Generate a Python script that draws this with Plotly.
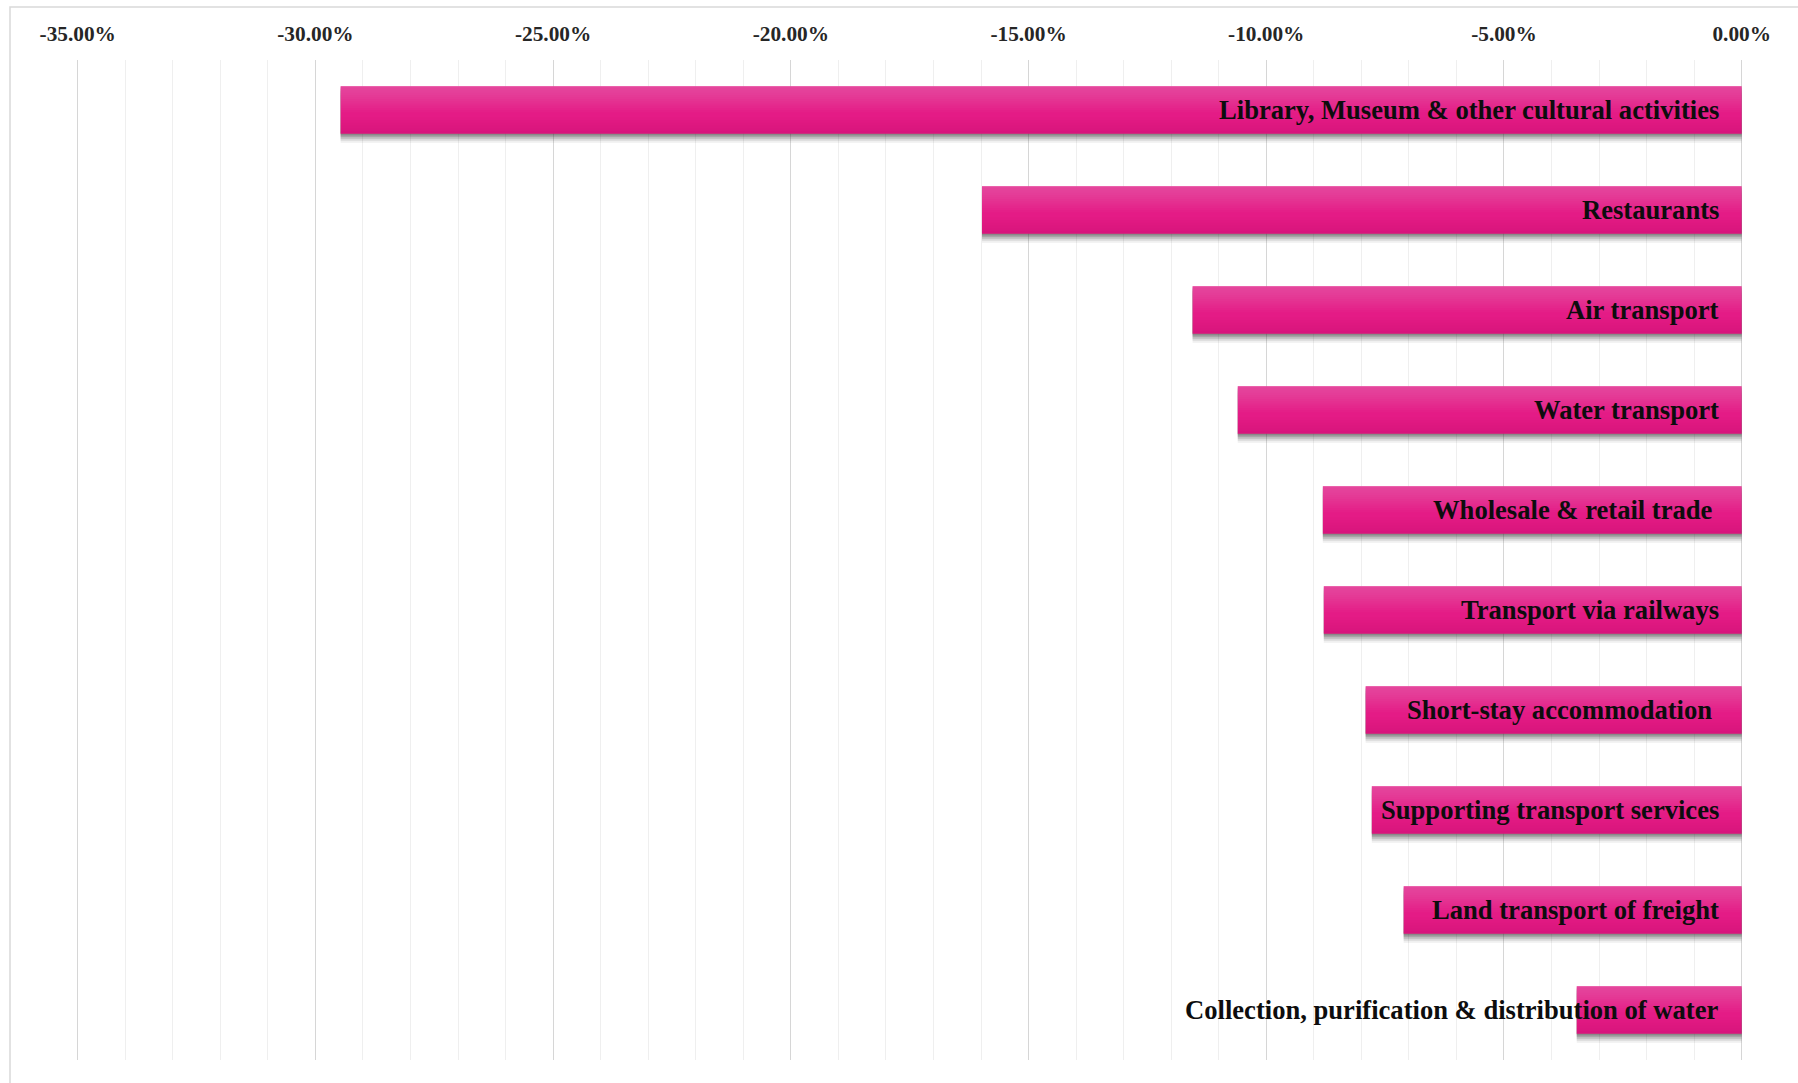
import plotly.graph_objects as go

# Sectors ranked by change (fraction, negative = decline)
sectors = [
    "Library, Museum & other cultural activities",
    "Restaurants",
    "Air transport",
    "Water transport",
    "Wholesale & retail trade\u00a0",
    "Transport via railways",
    "Short-stay accommodation\u00a0",
    "Supporting transport services",
    "Land transport of freight",
    "Collection, purification & distribution of water",
]
change = [-0.2947, -0.1598, -0.1155, -0.1060, -0.0881, -0.0879, -0.0791, -0.0778, -0.0711, -0.0347]

# Top axis ticks
tick_values = [-0.35, -0.30, -0.25, -0.20, -0.15, -0.10, -0.05, 0.0]
tick_labels = ["-35.00%", "-30.00%", "-25.00%", "-20.00%", "-15.00%", "-10.00%", "-5.00%", "0.00%"]

W, H = 1798, 1083
L, R, T, B = 76, 54, 60, 23
X_MIN, X_MAX = -0.350358, 0.000484   # a hair wider than [-35%, 0%] so edge gridlines are kept
BAR_W = 0.477
OFF = -BAR_W / 2

fig = go.Figure()

# soft drop shadow underneath each bar
for dy, alpha in [(0.09, 0.08), (0.07, 0.13), (0.05, 0.18), (0.03, 0.22), (0.015, 0.22)]:
    fig.add_trace(go.Bar(
        y=sectors, x=change, orientation="h",
        width=BAR_W, offset=OFF + dy,
        marker=dict(color=f"rgba(60,60,60,{alpha})", line=dict(width=0)),
        hoverinfo="skip", showlegend=False,
    ))

# main magenta bars
fig.add_trace(go.Bar(
    y=sectors, x=change, orientation="h",
    width=BAR_W, offset=OFF,
    marker=dict(color="#E41B86", line=dict(width=0)),
    showlegend=False,
))

# lighter sheen fading down from the top edge of each bar
n_sheen = 12
for i in range(n_sheen):
    frac = 0.55 * (n_sheen - i) / n_sheen
    fig.add_trace(go.Bar(
        y=sectors, x=change, orientation="h",
        width=BAR_W * frac, offset=OFF,
        marker=dict(color="rgba(255,255,255,0.018)", line=dict(width=0)),
        hoverinfo="skip", showlegend=False,
    ))

# slightly deeper tone toward the bottom edge
n_shade = 6
for i in range(n_shade):
    frac = 0.35 * (n_shade - i) / n_shade
    fig.add_trace(go.Bar(
        y=sectors, x=change, orientation="h",
        width=BAR_W * frac, offset=OFF + BAR_W * (1 - frac),
        marker=dict(color="rgba(190,0,100,0.025)", line=dict(width=0)),
        hoverinfo="skip", showlegend=False,
    ))

# sector names, right-aligned just inside the 0% line
for name in sectors:
    fig.add_annotation(
        x=0, y=name, xref="x", yref="y",
        text=name, showarrow=False,
        xanchor="right", yanchor="middle", xshift=-21,
        font=dict(size=26.6, color="#0D0D0D", weight="bold",
                  family="Liberation Serif, Times New Roman, serif"),
    )

pw = W - L - R
ph = H - T - B

# outer chart frame
fig.add_shape(
    type="rect", xref="paper", yref="paper",
    x0=(10 - L) / pw, x1=(W + 10 - L) / pw,
    y0=-(B + 20) / ph, y1=1 + (T - 7) / ph,
    line=dict(color="#D9D9D9", width=1.5), fillcolor="rgba(0,0,0,0)", layer="below",
)

fig.update_layout(
    width=W, height=H,
    margin=dict(l=L, r=R, t=T, b=B, pad=0),
    paper_bgcolor="white", plot_bgcolor="white",
    barmode="overlay",
    bargap=0.5,
    font=dict(family="Liberation Serif, Times New Roman, serif"),
    xaxis=dict(
        side="top",
        range=[X_MIN, X_MAX],
        tickvals=tick_values, ticktext=tick_labels,
        tickfont=dict(size=21.3, color="#262626", weight="bold"),
        showgrid=True, gridcolor="#D6D6D6", gridwidth=1.3,
        minor=dict(dtick=0.01, showgrid=True, gridcolor="#EFEFEF", gridwidth=1),
        zeroline=False, showline=False, ticks="",
        ticklabelstandoff=14,
        fixedrange=True,
    ),
    yaxis=dict(
        categoryorder="array", categoryarray=sectors,
        autorange="reversed",
        showticklabels=False,
        showgrid=False, zeroline=False, showline=False, ticks="",
        fixedrange=True,
    ),
)

fig.write_html("out.html")
